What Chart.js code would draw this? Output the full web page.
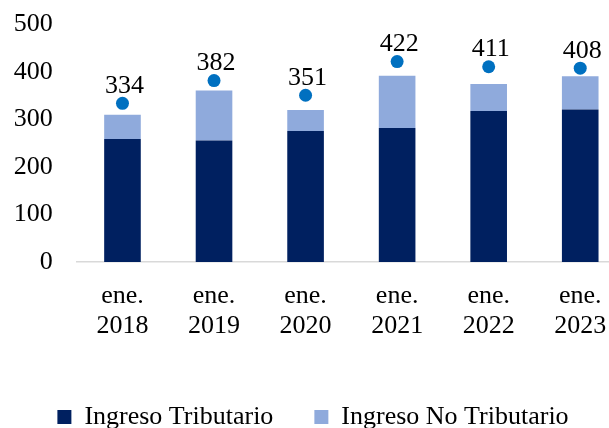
<!DOCTYPE html>
<html>
<head>
<meta charset="utf-8">
<script src="https://cdn.jsdelivr.net/npm/chart.js@4.4.0/dist/chart.umd.min.js"></script>
<style>
  html, body { margin: 0; padding: 0; background: #ffffff; overflow: hidden; }
  #wrap { width: 626px; height: 440px; position: relative; }
</style>
</head>
<body>
<div id="wrap"><canvas id="c"></canvas></div>
<script>
const categories = [['ene.', '2018'], ['ene.', '2019'], ['ene.', '2020'], ['ene.', '2021'], ['ene.', '2022'], ['ene.', '2023']];
const ingresoTributario = [259, 256, 276, 282, 318, 321];
const ingresoNoTributario = [51, 105, 44, 110, 57, 70];
const totalPuntos = [334, 382, 351, 422, 411, 408];
const yTicks = [0, 100, 200, 300, 400, 500];

const FONT = '"Liberation Serif", "Times New Roman", serif';

const pointLabels = {
  id: 'pointLabels',
  afterDatasetsDraw(chart) {
    const ctx = chart.ctx;
    const meta = chart.getDatasetMeta(2);
    const data = chart.data.datasets[2].data;
    ctx.save();
    ctx.font = '26px ' + FONT;
    ctx.fillStyle = '#000000';
    ctx.textAlign = 'center';
    ctx.textBaseline = 'alphabetic';
    meta.data.forEach((el, i) => {
      ctx.fillText(String(data[i]), el.x + 2, el.y - 10.5);
    });
    ctx.restore();
  }
};

new Chart(document.getElementById('c'), {
  type: 'bar',
  data: {
    labels: categories,
    datasets: [
      { label: 'Ingreso Tributario', data: ingresoTributario, backgroundColor: '#002060', borderWidth: 0, order: 1, stack: 'bars',
        categoryPercentage: 1, barPercentage: 0.4 },
      { label: 'Ingreso No Tributario', data: ingresoNoTributario, backgroundColor: '#8FAADC', borderWidth: 0, order: 1, stack: 'bars',
        categoryPercentage: 1, barPercentage: 0.4 },
      { type: 'line', label: 'Total', data: totalPuntos, showLine: false, stack: 'dots', order: 0, clip: false,
        pointRadius: 6.5, pointHoverRadius: 6.5, pointBackgroundColor: '#0070C0', pointBorderWidth: 0, borderColor: '#0070C0' }
    ]
  },
  options: {
    responsive: true,
    maintainAspectRatio: false,
    animation: false,
    layout: { autoPadding: false, padding: { top: 24.5, left: 0, right: 0, bottom: 0 } },
    plugins: {
      tooltip: { enabled: false },
      legend: {
        position: 'bottom',
        labels: {
          filter: (item) => item.datasetIndex !== 2,
          boxWidth: 14, boxHeight: 14, padding: 41,
          color: '#000000',
          font: { family: FONT, size: 26 }
        }
      }
    },
    scales: {
      x: {
        stacked: true,
        grid: { display: false, drawTicks: false },
        border: { display: true, color: '#D9D9D9', width: 1.5 },
        ticks: { color: '#000000', font: { family: FONT, size: 26, lineHeight: 1.12 }, padding: 20, maxRotation: 0, autoSkip: false },
        afterFit: (s) => { s.height = 101; s.paddingLeft = 0; s.paddingRight = 0; }
      },
      y: {
        stacked: true,
        min: 0, max: 500,
        afterBuildTicks: (s) => { s.ticks = yTicks.map(v => ({ value: v })); },
        grid: { display: false, drawTicks: false },
        border: { display: false },
        ticks: { color: '#000000', font: { family: FONT, size: 26 }, padding: 24 },
        afterFit: (s) => { s.width = 76.7; s.paddingTop = 0; s.paddingBottom = 0; }
      }
    }
  },
  plugins: [pointLabels]
});
</script>
</body>
</html>
